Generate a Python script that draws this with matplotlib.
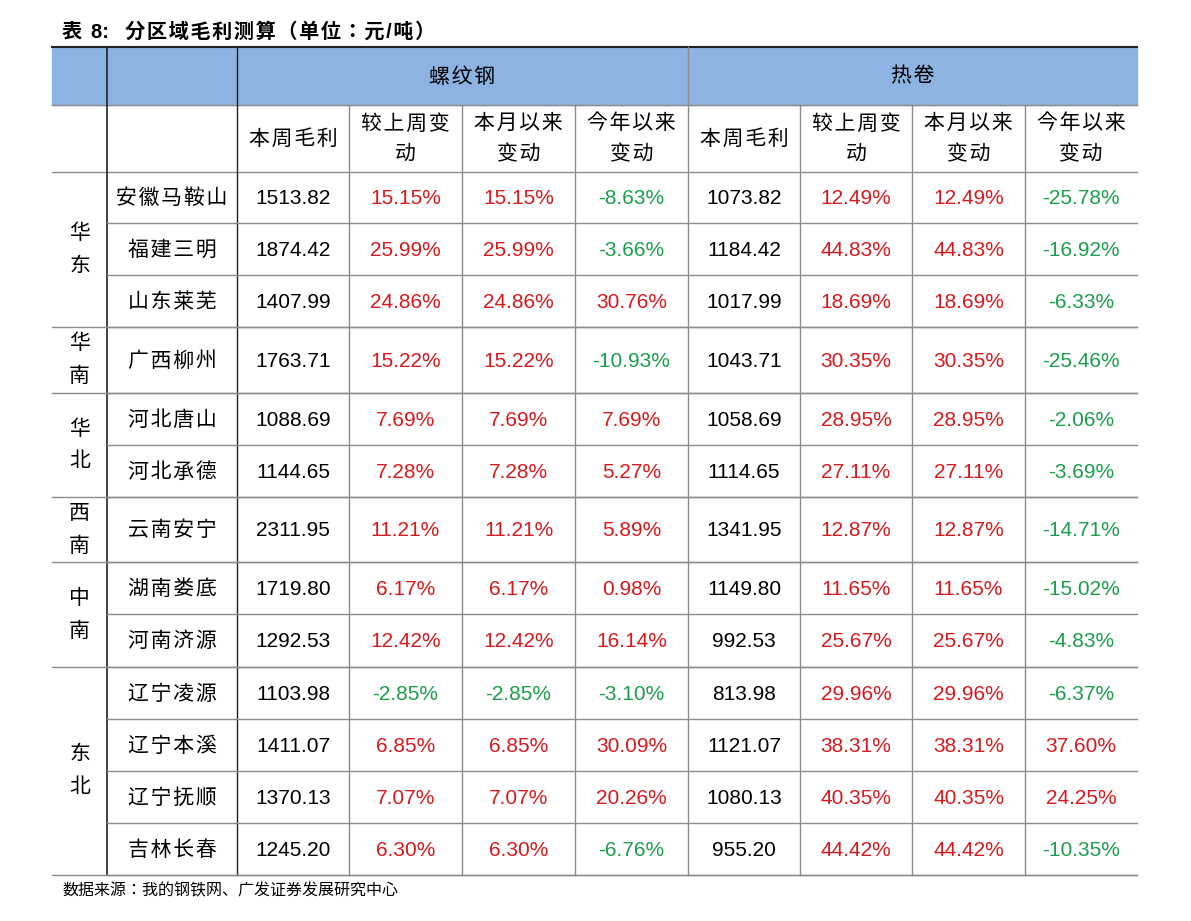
import matplotlib.pyplot as plt
from matplotlib import font_manager

cjk = [f.name for f in font_manager.fontManager.ttflist if "CJK" in f.name]
cjk_name = "Noto Sans CJK SC" if "Noto Sans CJK SC" in cjk else (cjk[0] if cjk else "DejaVu Sans")
plt.rcParams["font.family"] = ["Liberation Sans", cjk_name]

title = "表 8:  分区域毛利测算（单位：元/吨）"
source = "数据来源：我的钢铁网、广发证券发展研究中心"
groups = ["螺纹钢", "热卷"]
sub_headers = ["本周毛利", "较上周变\n动", "本月以来\n变动", "今年以来\n变动"]
regions = [("华\n东", 3), ("华\n南", 1), ("华\n北", 2), ("西\n南", 1), ("中\n南", 2), ("东\n北", 4)]
cities = ["安徽马鞍山", "福建三明", "山东莱芜", "广西柳州", "河北唐山", "河北承德", "云南安宁",
          "湖南娄底", "河南济源", "辽宁凌源", "辽宁本溪", "辽宁抚顺", "吉林长春"]
rebar_profit = ["1513.82", "1874.42", "1407.99", "1763.71", "1088.69", "1144.65", "2311.95",
                "1719.80", "1292.53", "1103.98", "1411.07", "1370.13", "1245.20"]
rebar_wow = [15.15, 25.99, 24.86, 15.22, 7.69, 7.28, 11.21, 6.17, 12.42, -2.85, 6.85, 7.07, 6.30]
rebar_mtd = [15.15, 25.99, 24.86, 15.22, 7.69, 7.28, 11.21, 6.17, 12.42, -2.85, 6.85, 7.07, 6.30]
rebar_ytd = [-8.63, -3.66, 30.76, -10.93, 7.69, 5.27, 5.89, 0.98, 16.14, -3.10, 30.09, 20.26, -6.76]
hrc_profit = ["1073.82", "1184.42", "1017.99", "1043.71", "1058.69", "1114.65", "1341.95",
              "1149.80", "992.53", "813.98", "1121.07", "1080.13", "955.20"]
hrc_wow = [12.49, 44.83, 18.69, 30.35, 28.95, 27.11, 12.87, 11.65, 25.67, 29.96, 38.31, 40.35, 44.42]
hrc_mtd = [12.49, 44.83, 18.69, 30.35, 28.95, 27.11, 12.87, 11.65, 25.67, 29.96, 38.31, 40.35, 44.42]
hrc_ytd = [-25.78, -16.92, -6.33, -25.46, -2.06, -3.69, -14.71, -15.02, -4.83, -6.37, 37.60, 24.25, -10.35]

fig = plt.figure(figsize=(11.91, 9.21), dpi=100)
ax = fig.add_axes([0, 0, 1, 1])
ax.set_xlim(0, 1191)
ax.set_ylim(921, 0)
ax.axis("off")

xs = [52, 107, 237, 349, 462, 575, 688, 800, 912, 1025, 1137]
row_y = [172, 223, 275, 327, 393, 445, 497, 562, 614, 667, 719, 771, 823, 875]
grey, dark = "#8c8c8c", "#222222"
red, green = "#d7191c", "#1a9e4a"
fs = 15

def spaced(s):
    # the reference sets CJK labels with slightly wide tracking
    return "\n".join("\u200a".join(line) for line in s.split("\n"))

ax.text(62, 32, spaced(title).replace("8\u200a:", "8:"), fontsize=14.5, va="center", ha="left", fontweight="bold")
ax.add_patch(plt.Rectangle((xs[0], 47), xs[-1] - xs[0], 58, color="#8db3e2", zorder=0))
ax.plot([xs[0], xs[-1]], [47, 47], color=dark, lw=1.5)
ax.plot([xs[0], xs[-1]], [105, 105], color=grey, lw=1)
ax.plot([xs[0], xs[-1]], [172, 172], color=grey, lw=1)
for gi, g in enumerate(groups):
    x0, x1 = xs[2 + 4 * gi], xs[6 + 4 * gi]
    ax.text((x0 + x1) / 2, 77, spaced(g), fontsize=fs, ha="center", va="center")
    ax.plot([x0, x0], [47, row_y[-1]], color=dark if gi == 0 else grey, lw=1)
    for j, h in enumerate(sub_headers):
        ax.text((xs[2 + 4 * gi + j] + xs[3 + 4 * gi + j]) / 2, 139, spaced(h), fontsize=fs,
                ha="center", va="center", linespacing=1.75)
ax.plot([xs[1], xs[1]], [47, row_y[-1]], color=dark, lw=1.2)
for x in xs[3:6] + xs[7:10]:
    ax.plot([x, x], [105, row_y[-1]], color=grey, lw=1)

def pct_color(v):
    return red if v >= 0 else green

r = 0
for name, n in regions:
    y0, y1 = row_y[r], row_y[r + n]
    ax.text((xs[0] + xs[1]) / 2, (y0 + y1) / 2, name, fontsize=fs, ha="center", va="center", linespacing=1.9)
    ax.plot([xs[0], xs[-1]], [y1, y1], color=grey, lw=1)
    r += n
for i in range(len(cities)):
    yc = (row_y[i] + row_y[i + 1]) / 2 + 1
    ax.plot([xs[1], xs[-1]], [row_y[i + 1]] * 2, color=grey, lw=1)
    vals = [(spaced(cities[i]), "black"), (rebar_profit[i], "black"),
            (f"{rebar_wow[i]:.2f}%", pct_color(rebar_wow[i])),
            (f"{rebar_mtd[i]:.2f}%", pct_color(rebar_mtd[i])),
            (f"{rebar_ytd[i]:.2f}%", pct_color(rebar_ytd[i])),
            (hrc_profit[i], "black"),
            (f"{hrc_wow[i]:.2f}%", pct_color(hrc_wow[i])),
            (f"{hrc_mtd[i]:.2f}%", pct_color(hrc_mtd[i])),
            (f"{hrc_ytd[i]:.2f}%", pct_color(hrc_ytd[i]))]
    for j, (t, c) in enumerate(vals):
        ax.text((xs[1 + j] + xs[2 + j]) / 2, yc, t, fontsize=fs, ha="center", va="center", color=c)

ax.text(62, 891, source, fontsize=11.5, ha="left", va="center")
fig.savefig("out.png", dpi=100)
